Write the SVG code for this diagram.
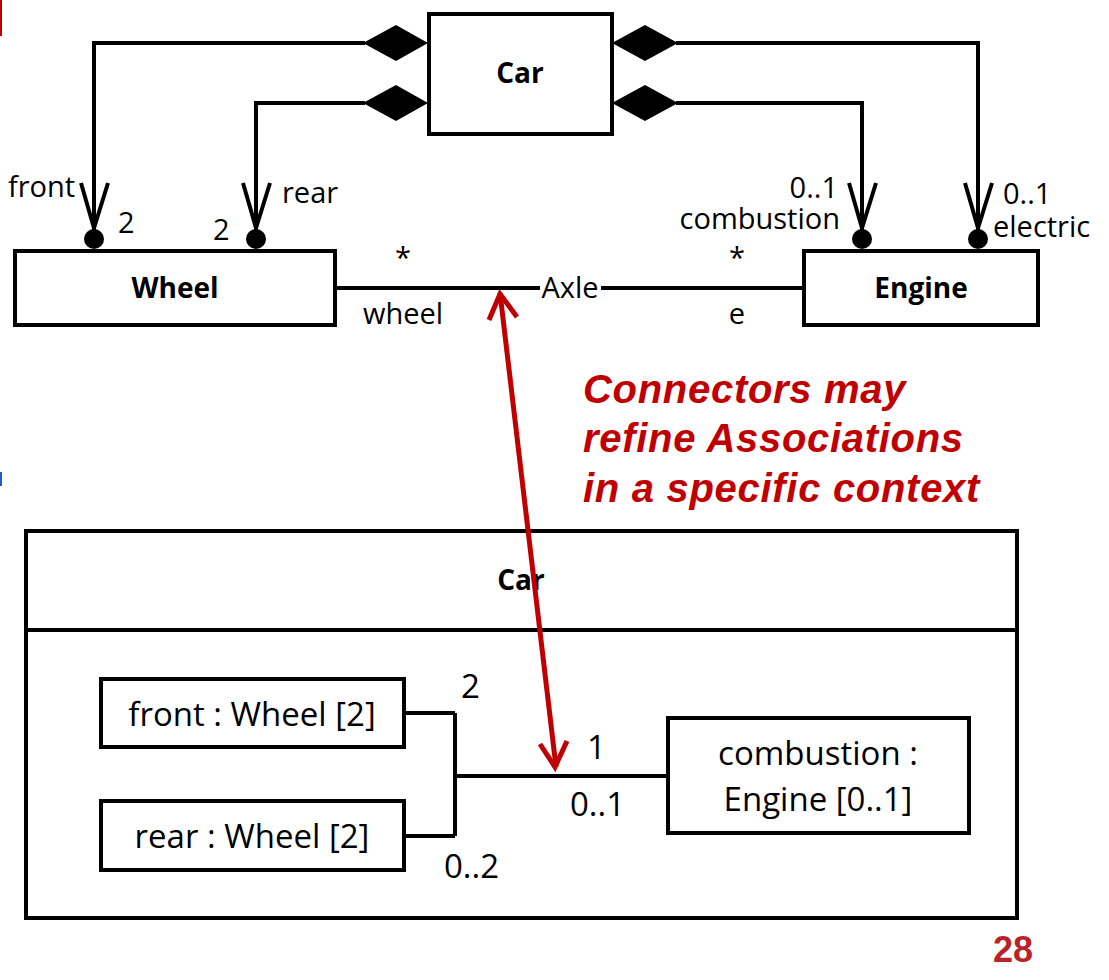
<svg xmlns="http://www.w3.org/2000/svg" width="1109" height="980" viewBox="0 0 1109 980">
<defs>
<style>
.box{fill:#fff;stroke:#000;stroke-width:4}
.ln{fill:none;stroke:#000;stroke-width:4}
.t{font-family:"Open Sans","Liberation Sans",sans-serif;fill:#000;font-size:29px}
.p{font-family:"Open Sans","Liberation Sans",sans-serif;fill:#000;font-size:33px}
.b{font-family:"Open Sans","Liberation Sans",sans-serif;font-weight:bold;fill:#000;font-size:28px}
.red{font-family:"Liberation Sans",Arial,sans-serif;font-weight:bold;font-style:italic;fill:#C00000;font-size:40px;letter-spacing:0.7px}
.ra{fill:none;stroke:#C00000;stroke-width:5}
</style>
</defs>
<rect x="0" y="0" width="2" height="36" fill="#C00000"/>
<rect x="0" y="472" width="2" height="14" fill="#1F5FBF"/>
<g id="car-top">
<rect class="box" x="429" y="14" width="183" height="120"/>
<text class="b" x="520" y="83" text-anchor="middle">Car</text>
</g>
<g id="wheel">
<rect class="box" x="15" y="251" width="320" height="74"/>
<text class="b" x="175" y="298" text-anchor="middle">Wheel</text>
</g>
<g id="engine">
<rect class="box" x="804" y="251" width="234" height="74"/>
<text class="b" x="921" y="298" text-anchor="middle">Engine</text>
</g>
<g id="car-structure">
<rect class="box" x="26" y="531" width="991" height="387"/>
<path class="ln" d="M26,630 H1017"/>
<text class="b" x="521" y="590" text-anchor="middle">Car</text>
</g>
<g id="front-part">
<rect class="box" x="101" y="679" width="303" height="68"/>
<text class="p" x="252" y="726" text-anchor="middle">front : Wheel [2]</text>
</g>
<g id="rear-part">
<rect class="box" x="101" y="801" width="303" height="69"/>
<text class="p" x="252" y="848" text-anchor="middle">rear : Wheel [2]</text>
</g>
<g id="combustion-part">
<rect class="box" x="668" y="718" width="301" height="115"/>
<text class="p" x="818" y="765" text-anchor="middle">combustion :</text>
<text class="p" x="818" y="811" text-anchor="middle">Engine [0..1]</text>
</g>
<g id="connectors">
<path class="ln" d="M365,43 H94 V232"/>
<path class="ln" d="M365,103 H256 V232"/>
<path class="ln" d="M676,43 H978 V232"/>
<path class="ln" d="M676,103 H862 V232"/>
<path d="M428,43 L396,25 L363,43 L396,61 Z"/>
<path d="M428,103 L396,85 L363,103 L396,121 Z"/>
<path d="M612,43 L645,25 L678,43 L645,61 Z"/>
<path d="M612,103 L645,85 L678,103 L645,121 Z"/>
<path class="ln" d="M81,183 L94,228 L108,183"/>
<path class="ln" d="M243,183 L256,228 L270,183"/>
<path class="ln" d="M849,183 L862,228 L876,183"/>
<path class="ln" d="M965,183 L978,228 L992,183"/>
<circle cx="94" cy="239" r="10"/>
<circle cx="256" cy="239" r="10"/>
<circle cx="862" cy="239" r="10"/>
<circle cx="978" cy="239" r="10"/>
<path class="ln" d="M335,288 H540 M601,288 H804" stroke-width="3"/>
<path class="ln" d="M455,713 V836 M404,713 H455 M404,836 H455 M455,776 H668"/>
</g>
<g id="labels">
<text class="t" x="8" y="197">front</text>
<text class="t" x="118" y="233">2</text>
<text class="t" x="213" y="240">2</text>
<text class="t" x="282" y="203">rear</text>
<text class="t" x="838" y="198" text-anchor="end" font-size="28">0..1</text>
<text class="t" x="840" y="229" text-anchor="end" font-size="28">combustion</text>
<text class="t" x="1003" y="204" font-size="28">0..1</text>
<text class="t" x="993" y="237" font-size="28">electric</text>
<text class="t" x="403" y="268" text-anchor="middle">*</text>
<text class="t" x="403" y="324" text-anchor="middle">wheel</text>
<text class="t" x="570" y="298" text-anchor="middle">Axle</text>
<text class="t" x="737" y="268" text-anchor="middle">*</text>
<text class="t" x="737" y="324" text-anchor="middle">e</text>
</g>
<g id="part-labels">
<text class="p" x="461" y="698" font-size="32">2</text>
<text class="p" x="587" y="759" font-size="32">1</text>
<text class="p" x="570" y="816" font-size="32">0..1</text>
<text class="p" x="444" y="878" font-size="32">0..2</text>
</g>
<g id="note">
<text class="red" x="583" y="403">Connectors may</text>
<text class="red" x="583" y="452">refine Associations</text>
<text class="red" x="583" y="502">in a specific context</text>
<path class="ra" d="M500,293 L556,767"/>
<path class="ra" d="M489,320 L500,294 L517,317"/>
<path class="ra" d="M540,744 L555,767 L567,741"/>
</g>
<text x="1013" y="962" text-anchor="middle" font-family="Liberation Sans,Arial,sans-serif" font-weight="bold" font-size="36" fill="#B8232A">28</text>
</svg>
